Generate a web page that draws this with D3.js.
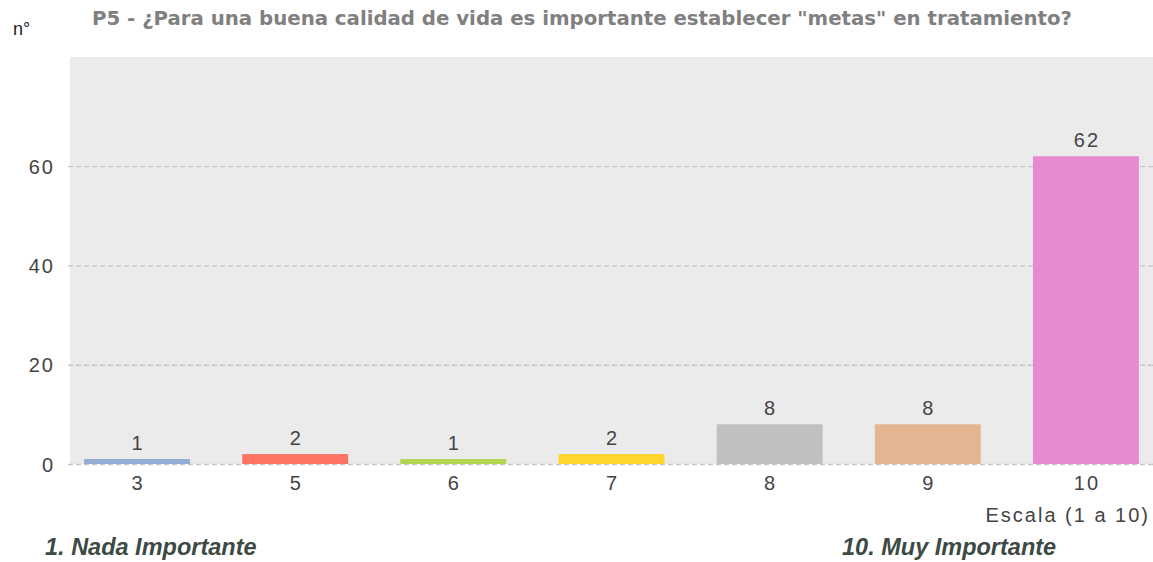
<!DOCTYPE html>
<html>
<head>
<meta charset="utf-8">
<script src="https://cdn.jsdelivr.net/npm/d3@7"></script>
<style>
  body { margin: 0; background: #fff; }
  .tick text { font-family: "Liberation Sans", Arial, sans-serif; font-size: 20px; fill: #444; letter-spacing: 2px; }
</style>
</head>
<body>
<div id="chart"></div>
<script>

var categories = ["3", "5", "6", "7", "8", "9", "10"];
var values = [1, 2, 1, 2, 8, 8, 62];
var colors = ["#93acd6", "#ff7363", "#b3d44e", "#ffd52e", "#c0c0c0", "#e4b591", "#e88ad0"];
var yTicks = [0, 20, 40, 60];

var width = 1153, height = 562;
var plot = { left: 70, right: 1153, top: 57, bottom: 464 };

var svg = d3.select("#chart").append("svg")
    .attr("width", width)
    .attr("height", height);

var x = d3.scaleBand()
    .domain(categories)
    .range([58, 1165])
    .paddingInner(0.33)
    .paddingOuter(0.165);

var y = d3.scaleLinear()
    .domain([0, 82])
    .range([plot.bottom, plot.top]);

// plot background
svg.append("rect")
    .attr("x", plot.left)
    .attr("y", plot.top)
    .attr("width", plot.right - plot.left)
    .attr("height", plot.bottom - plot.top)
    .attr("fill", "#ebebeb");

// dashed grid
var grid = svg.append("g")
    .attr("transform", "translate(68,0)")
    .call(d3.axisLeft(y).tickValues(yTicks).tickSize(-(plot.right - 68)).tickFormat(""));
grid.select(".domain").remove();
grid.selectAll("line")
    .attr("stroke", "#c6c6c6")
    .attr("stroke-width", 1.3)
    .attr("stroke-dasharray", "5,3");

// bars
svg.append("g").selectAll("rect")
    .data(values)
    .enter()
    .append("rect")
    .attr("x", (d, i) => x(categories[i]))
    .attr("y", d => y(d))
    .attr("width", x.bandwidth())
    .attr("height", d => y(0) - y(d))
    .attr("fill", (d, i) => colors[i]);

// value labels
svg.append("g").selectAll("text")
    .data(values)
    .enter()
    .append("text")
    .attr("x", (d, i) => x(categories[i]) + x.bandwidth() / 2 + 1)
    .attr("y", d => y(d) - 9)
    .attr("text-anchor", "middle")
    .style("font-family", "'Liberation Sans', Arial, sans-serif")
    .style("font-size", "20px")
    .style("letter-spacing", "2px")
    .attr("fill", "#444")
    .text(d => d);

// y axis labels
var yAxis = svg.append("g")
    .attr("transform", "translate(55,0)")
    .call(d3.axisLeft(y).tickValues(yTicks).tickSize(0).tickPadding(0));
yAxis.select(".domain").remove();
yAxis.selectAll("text").attr("dy", "0.36em");

// x axis labels
var xAxis = svg.append("g")
    .attr("transform", "translate(1," + plot.bottom + ")")
    .call(d3.axisBottom(x).tickSize(0).tickPadding(12));
xAxis.select(".domain").remove();

svg.append("text")
    .attr("x", 1150)
    .attr("y", 522)
    .attr("text-anchor", "end")
    .style("font-family", "'Liberation Sans', Arial, sans-serif")
    .style("font-size", "20px")
    .style("letter-spacing", "2px")
    .attr("fill", "#444")
    .text("Escala (1 a 10)");

// y unit
svg.append("text")
    .attr("x", 13)
    .attr("y", 35)
    .style("font-family", "'Liberation Sans', Arial, sans-serif")
    .style("font-size", "18px")
    .attr("fill", "#222")
    .text("n°");

// title
svg.append("text")
    .attr("x", 92)
    .attr("y", 25)
    .attr("textLength", 980)
    .attr("lengthAdjust", "spacingAndGlyphs")
    .style("font-family", "'DejaVu Sans', sans-serif")
    .style("font-weight", "bold")
    .style("font-size", "20px")
    .attr("fill", "#808080")
    .text("P5 - ¿Para una buena calidad de vida es importante establecer \"metas\" en tratamiento?");

// scale notes
var notes = [["1. Nada Importante", 45], ["10. Muy Importante", 842]];
svg.append("g").selectAll("text")
    .data(notes)
    .enter()
    .append("text")
    .attr("x", d => d[1])
    .attr("y", 555)
    .style("font-family", "'Liberation Sans', Arial, sans-serif")
    .style("font-weight", "bold")
    .style("font-style", "italic")
    .style("font-size", "23.5px")
    .attr("fill", "#3d4a44")
    .text(d => d[0]);

</script>
</body>
</html>
